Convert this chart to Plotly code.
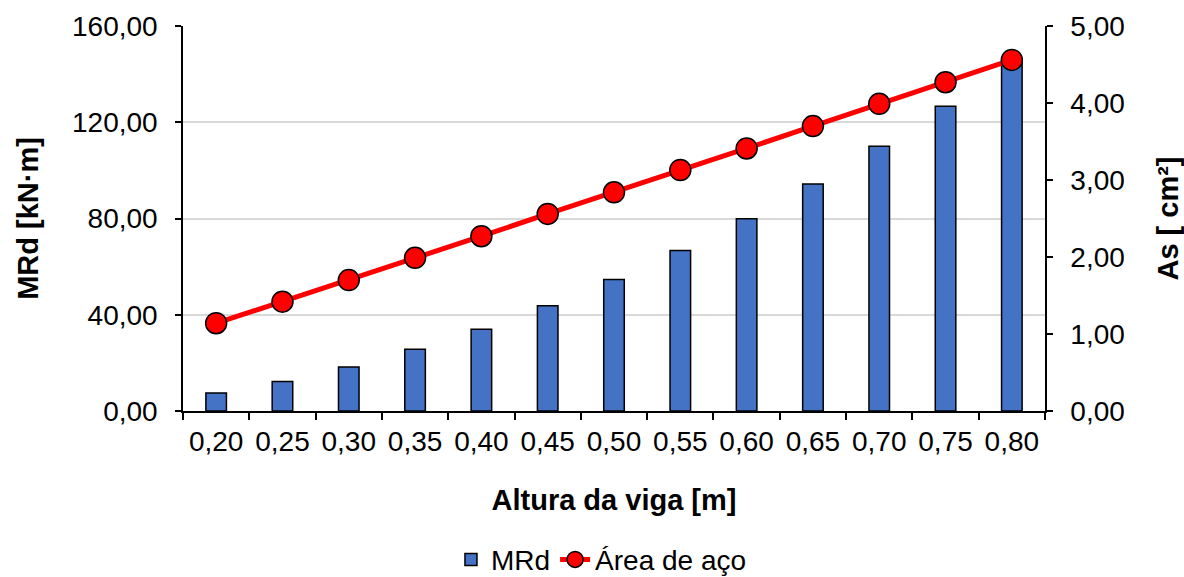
import plotly.graph_objects as go

altura = ["0,20", "0,25", "0,30", "0,35", "0,40", "0,45", "0,50",
          "0,55", "0,60", "0,65", "0,70", "0,75", "0,80"]
mrd = [7.5, 12.3, 18.3, 25.7, 34.0, 43.7, 54.7, 66.7, 79.9, 94.3, 110.0, 126.7, 145.5]
area_aco = [1.14, 1.42, 1.70, 1.99, 2.27, 2.56, 2.84, 3.13, 3.41, 3.70, 3.99, 4.27, 4.56]

FONT = "Liberation Sans, Arial, sans-serif"

fig = go.Figure()
fig.add_trace(go.Bar(
    x=altura, y=mrd, name="MRd",
    marker=dict(color="#4472C4", line=dict(color="black", width=1.5)),
    yaxis="y",
))
fig.add_trace(go.Scatter(
    x=altura, y=area_aco, name="Área de aço", mode="lines+markers",
    line=dict(color="#FF0000", width=5),
    marker=dict(color="#FF0000", size=21, line=dict(color="black", width=1.5)),
    yaxis="y2",
))

fig.update_layout(
    width=1184, height=577,
    margin=dict(l=183, r=139, t=26, b=166, autoexpand=False),
    paper_bgcolor="white", plot_bgcolor="white",
    separators=",.",
    font=dict(family=FONT, size=28, color="black"),
    bargap=0.69,
    showlegend=True,
    legend=dict(orientation="h", xref="container", yref="container",
                x=0.508, xanchor="center", y=0.03, yanchor="middle",
                font=dict(size=28), traceorder="normal"),
    xaxis=dict(
        type="category", range=[-0.5, 12.5], automargin=False,
        showline=True, linecolor="black", linewidth=1.5,
        ticks="outside", tickson="boundaries", ticklen=7, tickcolor="black", tickwidth=1.5,
        tickfont=dict(size=28), ticklabelstandoff=5,
        title=dict(text="<b>Altura da viga [m]</b>", font=dict(size=29), standoff=33),
    ),
    yaxis=dict(
        range=[0, 160], dtick=40, tickformat=".2f", automargin=False,
        showline=True, linecolor="black", linewidth=1.5,
        ticks="outside", ticklen=6, tickcolor="black", tickwidth=1.5,
        showgrid=True, gridcolor="#d9d9d9", gridwidth=1.5, zeroline=False,
        tickfont=dict(size=28), ticklabelstandoff=12,
        title=dict(text="<b>MRd [kN·m]</b>", font=dict(size=29), standoff=25),
    ),
    yaxis2=dict(
        range=[0, 5], dtick=1, tickformat=".2f", overlaying="y", side="right",
        automargin=False,
        showline=True, linecolor="black", linewidth=1.5,
        ticks="outside", ticklen=6, tickcolor="black", tickwidth=1.5,
        showgrid=False, zeroline=False,
        tickfont=dict(size=28), ticklabelstandoff=12,
        title=dict(text="<b>As [ cm²]</b>", font=dict(size=29), standoff=38),
    ),
)

fig.write_html(
    "out.html",
    config={"displayModeBar": False, "responsive": False},
    post_script=("document.documentElement.style.margin='0';"
                 "document.body.style.margin='0';document.body.style.padding='0';"
                 "document.documentElement.style.overflow='hidden';"
                 "document.body.style.overflow='hidden';"),
)
